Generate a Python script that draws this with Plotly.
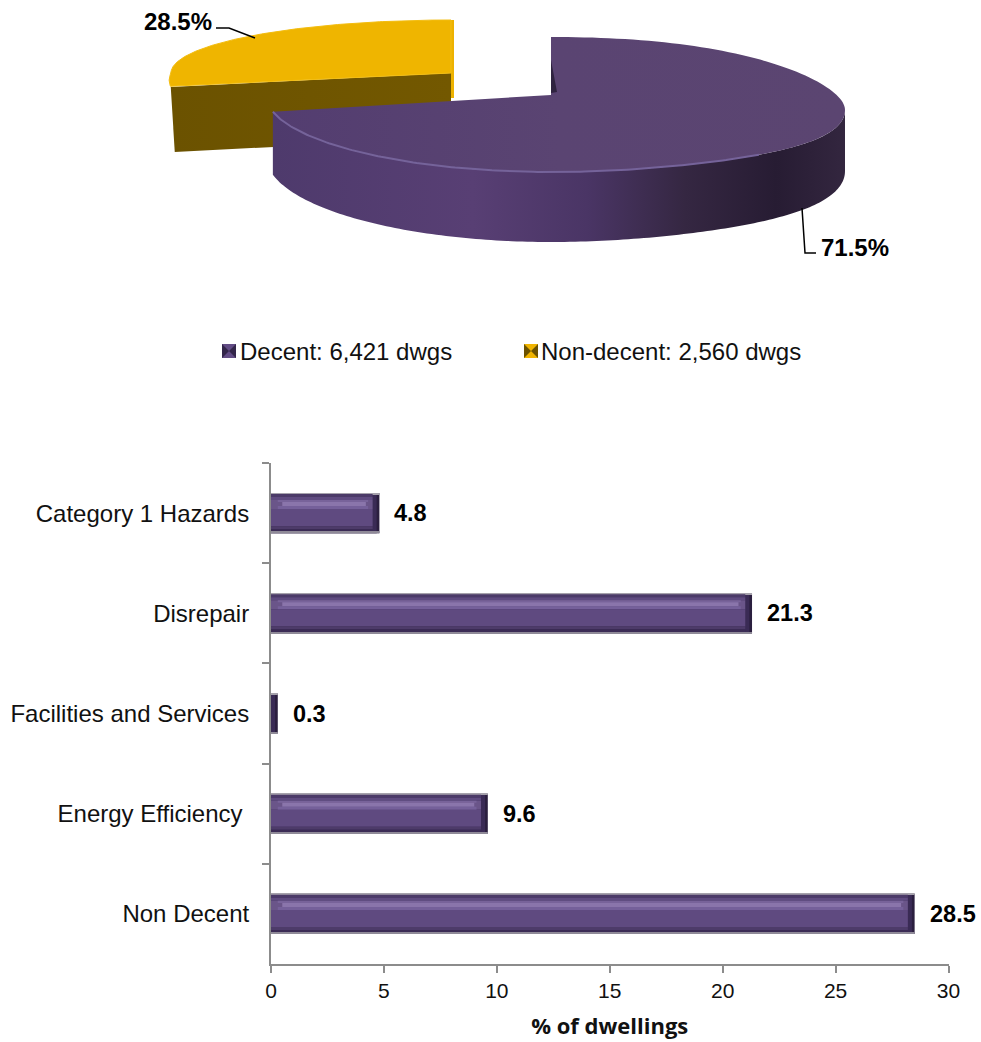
import numpy as np
import plotly.graph_objects as go

# ---- data ----
pie_labels = ["Decent: 6,421 dwgs", "Non-decent: 2,560 dwgs"]
pie_shares = [71.5, 28.5]
bar_categories = ["Category 1 Hazards", "Disrepair", "Facilities and Services",
                  "Energy Efficiency\u00a0", "Non Decent"]
bar_values = [4.8, 21.3, 0.3, 9.6, 28.5]
x_ticks = [0, 5, 10, 15, 20, 25, 30]

FONT = "Liberation Sans"
W, H = 981, 1042
fig = go.Figure()

# ---- bars (bevel drawn as overlaid bars of the same values) ----
# offset, width, colour, left inset, right inset (axis units)
bands = [
    (-0.20, 0.40, "#2b1f3f", 0.00, 0.00),
    (-0.20, 0.40, "#3a2b55", 0.00, 0.12),
    (-0.20, 0.010, "#a6a2ac", 0.00, 0.00),
    (-0.19, 0.03, "#4b3a68", 0.00, 0.30),
    (-0.16, 0.03, "#5f4b80", 0.00, 0.30),
    (-0.13, 0.09, "#6a5589", 0.00, 0.30),
    (-0.13, 0.02, "#78639a", 0.30, 0.50),
    (-0.11, 0.04, "#8a75ab", 0.50, 0.60),
    (-0.07, 0.03, "#75609a", 0.30, 0.50),
    (-0.04, 0.17, "#5f4a80", 0.00, 0.30),
    (0.13, 0.03, "#4d3b69", 0.00, 0.30),
    (0.16, 0.028, "#3b2b55", 0.00, 0.30),
    (0.188, 0.012, "#8f8a98", 0.00, 0.00),
]
for off, wid, col, li, ri in bands:
    v = np.array(bar_values, dtype=float)
    fig.add_trace(go.Bar(
        y=bar_categories, x=np.maximum(v - li - ri, 0), base=[li] * len(v),
        orientation="h", offset=off, width=wid,
        marker=dict(color=col, line=dict(width=0)),
        showlegend=False, hoverinfo="skip",
        xaxis="x", yaxis="y"))


# ---- pie on a hidden pixel-scale axis ----
def arc(cx, cy, rx_r, rx_l, ry_t, ry_b, a0, a1, shear=0.0, lean=0.0):
    t = np.radians(np.linspace(a0, a1, 160))
    s, c = np.sin(t), np.cos(t)
    x = cx + np.where(s > 0, rx_r, rx_l) * s - lean * np.clip(-c, 0, None) * (s < 0)
    y = cy - np.where(c > 0, ry_t, ry_b) * c + shear * np.clip(s, 0, None) ** 3
    return x, y


split = pie_shares[0] / 100 * 360

# yellow slice, pulled out: it occupies the angles after the purple one
yc = (451, 73, 280, 280, 53, 64)
yx, yy = arc(*yc, split, 360, lean=32)
fig.add_trace(go.Scatter(
    x=list(yx[:1]) + [yc[0], yc[0], yx[0] + 4], y=list(yy[:1]) + [yc[1], yc[1] + 65, yy[0] + 65],
    fill="toself", mode="none", xaxis="x2", yaxis="y2", showlegend=False, hoverinfo="skip",
    fillgradient=dict(type="horizontal", colorscale=[[0, "#6b5200"], [1, "#735800"]])))
fig.add_trace(go.Scatter(
    x=[yc[0], yc[0] + 3, yc[0] + 3, yc[0]], y=[yc[1] - 53, yc[1] - 53, yc[1] + 25, yc[1] + 25],
    fill="toself", fillcolor="#edb200", mode="none", xaxis="x2", yaxis="y2",
    showlegend=False, hoverinfo="skip"))
fig.add_trace(go.Scatter(
    x=np.r_[yc[0], yx, yc[0]], y=np.r_[yc[1], yy, yc[1]],
    fill="toself", fillcolor="#efb500", mode="lines", line=dict(color="#f3bd10", width=1),
    xaxis="x2", yaxis="y2", showlegend=False, hoverinfo="skip"))

# purple slice
pc = (551, 95, 294, 285, 58, 77)
SHEAR = 15
px_, py_ = arc(*pc, 0, split, SHEAR)
sx, sy = arc(*pc, 90, split, SHEAR)
depth = 61 + 9 * np.clip(-np.cos(np.radians(np.linspace(90, split, 160))), 0, None)
fig.add_trace(go.Scatter(
    x=np.r_[sx, sx[::-1]], y=np.r_[sy, (sy + depth)[::-1]],
    fill="toself", mode="none", xaxis="x2", yaxis="y2", showlegend=False, hoverinfo="skip",
    fillgradient=dict(type="horizontal", colorscale=[
        [0, "#4e3a6c"], [0.35, "#583f74"], [0.55, "#4a3565"],
        [0.72, "#352742"], [0.88, "#271c33"], [1, "#33263f"]])))
fig.add_trace(go.Scatter(
    x=np.r_[pc[0], px_, pc[0]], y=np.r_[pc[1], py_, pc[1]],
    fill="toself", mode="none", xaxis="x2", yaxis="y2", showlegend=False, hoverinfo="skip",
    fillgradient=dict(type="horizontal", colorscale=[
        [0, "#533d70"], [0.5, "#5a4472"], [1, "#5b4571"]])))
rx_, ry_ = arc(*pc, 135, split, SHEAR)
fig.add_trace(go.Scatter(
    x=rx_, y=ry_, mode="lines", line=dict(color="#75639a", width=2),
    xaxis="x2", yaxis="y2", showlegend=False, hoverinfo="skip"))

# legend keys
key_x = [229, 531]
key_y = [351, 351]
fig.add_trace(go.Scatter(x=key_x, y=key_y, mode="markers", xaxis="x2", yaxis="y2",
                         marker=dict(symbol="square", size=14, color=["#33264a", "#6b5200"]),
                         showlegend=False, hoverinfo="skip"))
fig.add_trace(go.Scatter(x=key_x, y=key_y, mode="markers", xaxis="x2", yaxis="y2",
                         marker=dict(symbol="hourglass", size=14, color=["#624c85", "#f0b400"]),
                         showlegend=False, hoverinfo="skip"))

# ---- text ----
ann = []
for cat, val in zip(bar_categories, bar_values):
    ann.append(dict(x=val, y=cat, xref="x", yref="y", text=f"<b>{val:.1f}</b>", showarrow=False,
                    xanchor="left", xshift=13, font=dict(family=FONT, size=23.5, color="#000000")))
pixel_text = [
    (178, 21, f"<b>{pie_shares[1]}%</b>", 24),
    (855, 247, f"<b>{pie_shares[0]}%</b>", 24),
]
for x, y, t, s in pixel_text:
    ann.append(dict(x=x, y=y, xref="x2", yref="y2", text=t, showarrow=False,
                    font=dict(family=FONT, size=s, color="#000000")))
ann.append(dict(x=240, y=351, xref="x2", yref="y2", text=pie_labels[0], showarrow=False,
                xanchor="left", xshift=-2, font=dict(family=FONT, size=24, color="#111111")))
ann.append(dict(x=541, y=351, xref="x2", yref="y2", text=pie_labels[1], showarrow=False,
                xanchor="left", xshift=-2, font=dict(family=FONT, size=24, color="#111111")))

shapes = [
    dict(type="path", path="M216,28 L229,28 L255,38", xref="x2", yref="y2",
         line=dict(color="#000000", width=1.5)),
    dict(type="path", path="M802,208 L805,253 L816,253", xref="x2", yref="y2",
         line=dict(color="#000000", width=1.5)),
    dict(type="path", path="M551,60 L557,92 L551,93 Z", xref="x2", yref="y2",
         fillcolor="#2f2340", line=dict(width=0)),
]

AX = "#8c8c8c"
fig.update_layout(
    width=W, height=H, margin=dict(l=0, r=0, t=0, b=0, pad=0),
    paper_bgcolor="white", plot_bgcolor="rgba(0,0,0,0)", barmode="overlay",
    font=dict(family=FONT, color="#111111"), showlegend=False,
    annotations=ann, shapes=shapes,
    xaxis=dict(domain=[271 / W, 948.5 / W], range=[0, 30], tickvals=x_ticks, automargin=False,
               showgrid=False, zeroline=False, showline=True, linecolor=AX, linewidth=2,
               ticks="outside", ticklen=7, tickcolor=AX, tickwidth=2,
               tickfont=dict(family=FONT, size=21, color="#111111"),
               title=dict(text="<b>% of dwellings</b>", standoff=17,
                          font=dict(family="Open Sans", size=22, color="#111111")),
               anchor="y"),
    yaxis=dict(domain=[(H - 964) / H, (H - 463) / H], type="category",
               categoryorder="array", categoryarray=bar_categories, automargin=False,
               range=[4.5, -0.5], tickson="boundaries", showgrid=False, zeroline=False,
               showline=True, linecolor=AX, linewidth=2, ticks="outside", ticklen=7,
               tickcolor=AX, tickwidth=2, ticklabelstandoff=15,
               tickfont=dict(family=FONT, size=24, color="#111111"), anchor="x"),
    xaxis2=dict(domain=[0, 1], range=[0, W], visible=False, anchor="y2", automargin=False),
    yaxis2=dict(domain=[0, 1], range=[H, 0], visible=False, anchor="x2", automargin=False),
)

fig.write_html("out.html", config={"displayModeBar": False},
               post_script="document.body.style.margin='0';")
